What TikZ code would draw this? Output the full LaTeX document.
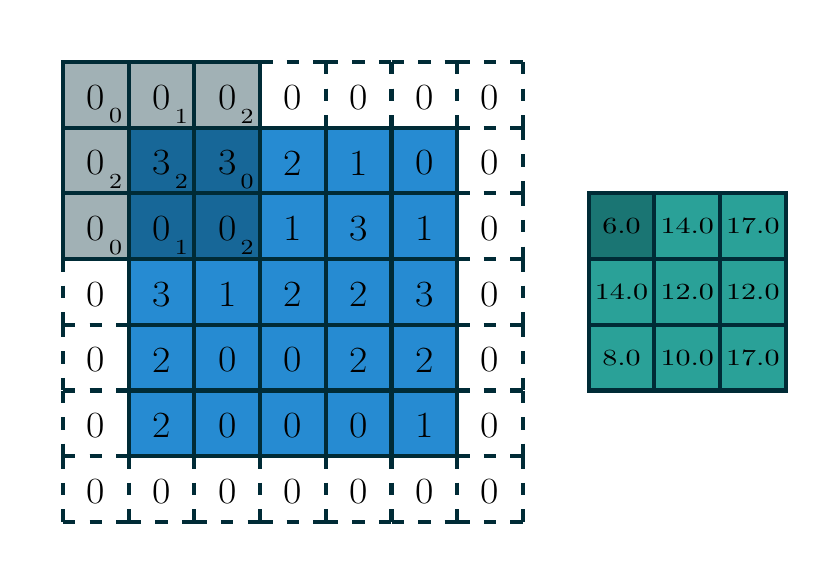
\documentclass[tikz,border=0pt]{standalone}
\usepackage{graphicx}
\definecolor{basedark}{HTML}{002B36}
\definecolor{inblue}{HTML}{268BD2}
\definecolor{outteal}{HTML}{2AA198}
\tikzset{
  cellbase/.style={draw=basedark, line width=1.8pt, minimum size=1cm, inner sep=0pt, outer sep=0pt},
  padcell/.style={minimum size=1cm, inner sep=0pt, outer sep=0pt},
  paddash/.style={draw=basedark, line width=1.8pt, dash pattern=on 5.4pt off 6.1pt},
  incell/.style={cellbase, fill=inblue},
  kcell/.style={cellbase, fill=basedark, fill opacity=0.37},
  outcell/.style={cellbase, fill=outteal},
  num/.style={inner sep=0pt, font=\fontsize{16}{19}\selectfont},
  sub/.style={inner sep=0pt, font=\fontsize{9.3}{11}\selectfont},
  outnum/.style={inner sep=0pt, font=\fontsize{10}{12}\selectfont}
}
\newcommand{\widetxt}[2]{\scalebox{#1}[1]{#2}}
\begin{document}
\begin{tikzpicture}
\useasboundingbox (-0.959,-0.763) rectangle (11.491,7.944);
% padding cells
\foreach \i in {0,...,6}{
  \foreach \j in {0,...,6}{
    \pgfmathtruncatemacro{\pad}{(\i==0)||(\i==6)||(\j==0)||(\j==6)}
    \ifnum\pad=1
      \node[padcell] (p-\i-\j) at (\i+0.5,6.5-\j) {};
      \draw[paddash] (p-\i-\j.north west) -- (p-\i-\j.north east)
                     (p-\i-\j.south west) -- (p-\i-\j.south east)
                     (p-\i-\j.north west) -- (p-\i-\j.south west)
                     (p-\i-\j.north east) -- (p-\i-\j.south east);
    \fi
  }
}
% input cells
\foreach \i in {1,...,5}{
  \foreach \j in {1,...,5}{
    \node[incell] (c-\i-\j) at (\i+0.5,6.5-\j) {};
  }
}
% kernel overlay
\foreach \i in {0,1,2}{
  \foreach \j in {0,1,2}{
    \node[kcell] (k-\i-\j) at (\i+0.5,6.5-\j) {};
  }
}
% values
\foreach \r [count=\j from 0] in {{0,0,0,0,0,0,0},{0,3,3,2,1,0,0},{0,0,0,1,3,1,0},{0,3,1,2,2,3,0},{0,2,0,0,2,2,0},{0,2,0,0,0,1,0},{0,0,0,0,0,0,0}}{
  \foreach \v [count=\i from 0] in \r {
    \node[num] (n-\i-\j) at (\i+0.5,6.465-\j) {\widetxt{1.08}{\v}};
  }
}
% kernel weights
\foreach \r [count=\j from 0] in {{0,1,2},{2,2,0},{0,1,2}}{
  \foreach \w [count=\i from 0] in \r {
    \node[sub] (w-\i-\j) at (\i+0.80,6.18-\j) {\widetxt{1.17}{\w}};
  }
}
% output
\foreach \j in {0,1,2}{
  \foreach \i in {0,1,2}{
    \node[outcell] (o-\i-\j) at (8.5+\i,4.5-\j) {};
  }
}
\node[kcell] (ok) at (8.5,4.5) {};
\foreach \r [count=\j from 0] in {{6.0,14.0,17.0},{14.0,12.0,12.0},{8.0,10.0,17.0}}{
  \foreach \v [count=\i from 0] in \r {
    \node[outnum] (on-\i-\j) at (8.5+\i,4.5-\j) {\widetxt{1.3}{\v}};
  }
}
\end{tikzpicture}
\end{document}
